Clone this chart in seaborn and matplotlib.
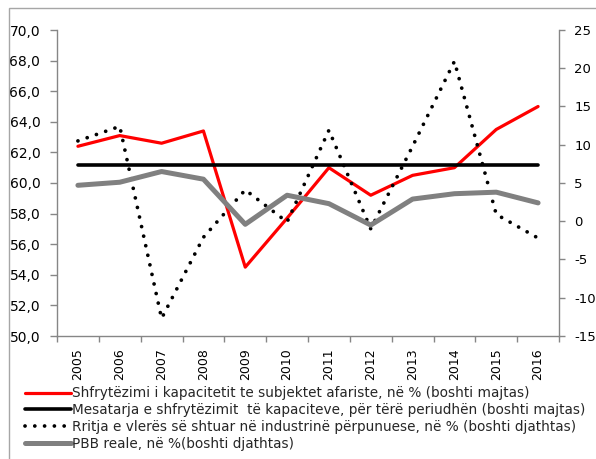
import matplotlib
matplotlib.use("Agg")
import matplotlib.pyplot as plt
import seaborn as sns
import pandas as pd
from matplotlib.ticker import FuncFormatter, MultipleLocator, FixedLocator
from matplotlib.patches import Rectangle

# ---- data ----
years = [2005, 2006, 2007, 2008, 2009, 2010, 2011, 2012, 2013, 2014, 2015, 2016]
capacity_util = [62.4, 63.1, 62.6, 63.4, 54.5, 57.7, 61.0, 59.2, 60.5, 61.0, 63.5, 65.0]
capacity_avg = [61.2, 61.2, 61.2, 61.2, 61.2, 61.2, 61.2, 61.2, 61.2, 61.2, 61.2, 61.2]
manuf_growth = [10.5, 12.4, -12.7, -2.1, 4.1, -0.1, 11.9, -1.0, 9.8, 20.9, 0.9, -2.2]
gdp_growth = [4.7, 5.1, 6.5, 5.5, -0.4, 3.4, 2.3, -0.5, 2.9, 3.6, 3.8, 2.4]

labels = [
    "Shfrytëzimi i kapacitetit te subjektet afariste, në % (boshti majtas)",
    "Mesatarja e shfrytëzimit  të kapaciteve, për tërë periudhën (boshti majtas)",
    "Rritja e vlerës së shtuar në industrinë përpunuese, në % (boshti djathtas)",
    "PBB reale, në %(boshti djathtas)",
]

df = pd.DataFrame({
    "year": years,
    "util": capacity_util,
    "avg": capacity_avg,
    "manuf": manuf_growth,
    "gdp": gdp_growth,
})

sns.set_theme(style="white")
plt.rcParams["font.family"] = ["DejaVu Sans"]

W, H = 596, 459
fig = plt.figure(figsize=(W / 100, H / 100), dpi=100)
ax1 = fig.add_axes([57 / W, 1 - 336 / H, 502 / W, 306 / H])
ax2 = ax1.twinx()

spine_c = "#868686"

sns.lineplot(data=df, x="year", y="util", ax=ax1, color="#FF0000", lw=2.3, label=labels[0], legend=False)
sns.lineplot(data=df, x="year", y="avg", ax=ax1, color="#000000", lw=2.6, label=labels[1], legend=False)
sns.lineplot(data=df, x="year", y="manuf", ax=ax2, color="#000000", lw=2.7,
             linestyle=(0, (0.01, 2.6)), dash_capstyle="round", label=labels[2], legend=False)
sns.lineplot(data=df, x="year", y="gdp", ax=ax2, color="#808080", lw=3.6,
             solid_capstyle="round", label=labels[3], legend=False)

ax1.set_xlim(years[0] - 0.5, years[-1] + 0.5)
ax1.set_ylim(50, 70)
ax2.set_ylim(-15, 25)
ax1.yaxis.set_major_locator(MultipleLocator(2))
ax2.yaxis.set_major_locator(MultipleLocator(5))
ax1.yaxis.set_major_formatter(FuncFormatter(lambda v, p: f"{v:.1f}".replace(".", ",")))
ax2.yaxis.set_major_formatter(FuncFormatter(lambda v, p: f"{v:.0f}"))

ax1.xaxis.set_major_locator(FixedLocator(years))
ax1.set_xticklabels([str(y) for y in years], rotation=90)
ax1.xaxis.set_minor_locator(FixedLocator([y + 0.5 for y in years[:-1]] + [years[0] - 0.5, years[-1] + 0.5]))
ax1.tick_params(axis="x", which="major", length=0, pad=9, labelsize=9, colors="black")
ax1.tick_params(axis="x", which="minor", length=4, width=1, color=spine_c, direction="out", bottom=True)
ax1.tick_params(axis="y", which="major", length=5, width=1, color=spine_c, direction="out", left=True, pad=7,
                labelsize=10, labelcolor="black")
ax2.tick_params(axis="y", which="major", length=4, width=1, color=spine_c, direction="out", right=True, pad=7,
                labelsize=9.5, labelcolor="black")

for ax in (ax1, ax2):
    ax.set_xlabel("")
    ax.set_ylabel("")
    ax.grid(False)
    ax.spines["top"].set_visible(False)
    for s in ("left", "right", "bottom"):
        ax.spines[s].set_color(spine_c)
        ax.spines[s].set_linewidth(1)
ax1.spines["right"].set_visible(False)
ax2.spines["left"].set_visible(False)
ax2.spines["bottom"].set_visible(False)

h1, l1 = ax1.get_legend_handles_labels()
h2, l2 = ax2.get_legend_handles_labels()
fs = 9.8
fig.legend(h1 + h2, l1 + l2, loc="upper left", bbox_to_anchor=(25 / W, 1 - 386.5 / H),
           frameon=False, fontsize=fs, handlelength=46 / (fs * 100 / 72), handletextpad=0.08,
           borderpad=0, borderaxespad=0, labelspacing=0.2)

fig.add_artist(Rectangle((9 / W, -0.1), 1.2, 1 - 8 / H + 0.1, transform=fig.transFigure,
                         fill=False, edgecolor="#a6a6a6", lw=1))

fig.savefig("out.png", dpi=100, facecolor="white")
